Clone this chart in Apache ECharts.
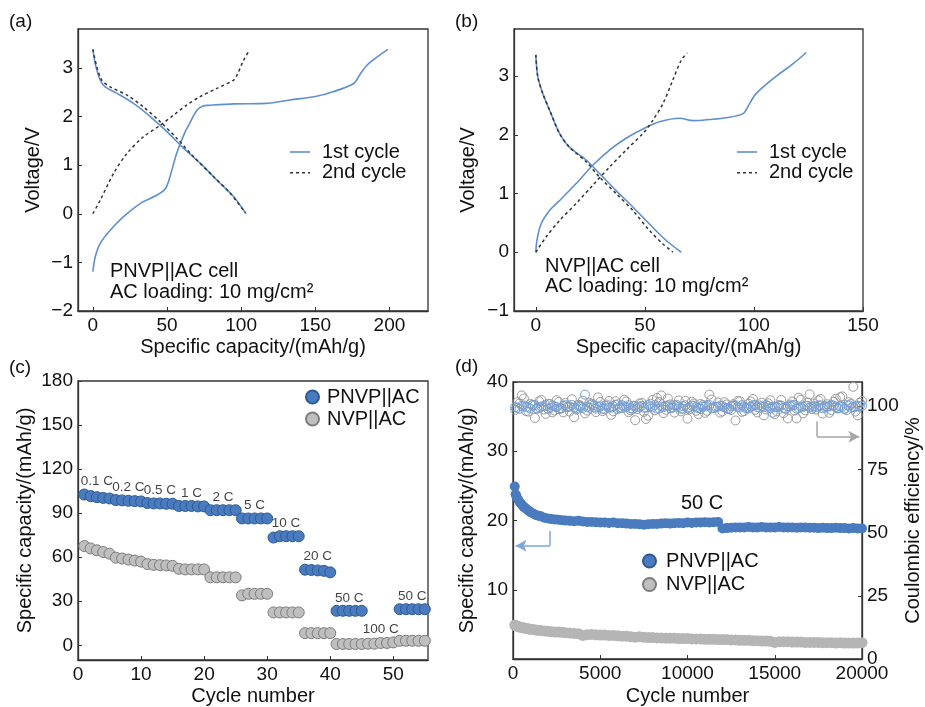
<!DOCTYPE html>
<html><head><meta charset="utf-8">
<script src="https://cdn.jsdelivr.net/npm/echarts@6/dist/echarts.min.js"></script>
<style>html,body{margin:0;padding:0;background:#fff}#c{width:925px;height:707px}</style>
</head><body><div id="c"></div>
<script>
// ---------- Panel (a): PNVP||AC, [capacity mAh/g, voltage V]
const a1Charge = [[0,-1.19],[1.6,-0.89],[5,-0.61],[11.7,-0.34],[20.7,-0.06],[32,0.21],[43,0.38],[49,0.52],[52,0.76],[56.5,1.24],[62.3,1.69],[64.6,1.82],[70.2,2.13],[74.7,2.22],[78,2.23],[95,2.26],[117,2.27],[133,2.34],[150,2.41],[162,2.51],[176,2.68],[180,2.86],[185,3.06],[192,3.23],[199,3.38]];
const a1Discharge = [[0,3.38],[1.5,3.1],[2.7,2.96],[5,2.75],[8.3,2.61],[16,2.48],[27.4,2.27],[38.7,2.0],[50,1.69],[60,1.38],[72.4,1.04],[83.7,0.69],[95,0.35],[103.3,0]];
const a2Charge = [[0,0],[5,0.28],[14,0.83],[23,1.24],[34,1.58],[45.5,1.82],[54.5,2.03],[63.5,2.24],[72.4,2.41],[83.7,2.58],[95,2.75],[97.2,2.85],[101.7,3.16],[105.7,3.37]];
const a2Discharge = [[0,3.38],[2.7,3.02],[6,2.75],[11.7,2.61],[23,2.44],[34,2.2],[45.5,1.89],[56.7,1.55],[68,1.17],[81.5,0.76],[92.7,0.42],[102.8,0.02]];
// ---------- Panel (b): NVP||AC
const b1Charge = [[0,0],[0.5,0.2],[2.4,0.48],[6.3,0.71],[10.9,0.88],[18.5,1.17],[26.1,1.48],[33.8,1.74],[41.4,1.94],[49.8,2.11],[56.7,2.22],[66,2.28],[72,2.24],[79.7,2.26],[87.3,2.29],[95,2.36],[98,2.53],[101,2.7],[110,2.99],[118,3.21],[124,3.4]];
const b1Discharge = [[0,3.36],[0.9,2.99],[3.2,2.7],[6.3,2.42],[10.9,2.02],[15.4,1.79],[23.1,1.57],[29.2,1.34],[36.8,1.05],[44.5,0.77],[52.1,0.48],[59.8,0.2],[66.7,0]];
const b2Charge = [[0,0],[4.7,0.26],[10.9,0.54],[18.5,0.83],[26.1,1.14],[33.8,1.45],[41.4,1.74],[49.8,2.05],[53.7,2.25],[58.3,2.53],[62.8,2.93],[66.7,3.27],[69.4,3.39]];
const b2Discharge = [[0,3.36],[0.9,2.99],[3.2,2.7],[6.3,2.42],[10.9,2.02],[15.4,1.79],[23.1,1.54],[29.2,1.28],[36.8,1.0],[44.5,0.71],[52.1,0.37],[58.3,0.14],[62.9,0]];
// ---------- Panel (c): rate capability
const rateCycles = [1,2,3,4,5,6,7,8,9,10,11,12,13,14,15,16,17,18,19,20,21,22,23,24,25,26,27,28,29,30,31,32,33,34,35,36,37,38,39,40,41,42,43,44,45,46,47,48,49,50,51,52,53,54,55];
const pnvpRate = [102.7,101.6,100.9,100.4,100.0, 98.9,98.7,98.4,98.2,98.0, 96.9,96.6,96.6,96.4,96.4, 94.9,94.9,94.9,94.6,94.6, 92.0,92.0,92.0,92.0,92.0, 86.4,86.4,86.4,86.4,86.4, 73.4,74.3,74.3,74.3,74.3, 51.5,51.3,51.0,50.7,49.7, 23.5,23.5,23.5,23.5,23.5, null,null,null,null,null, 24.6,24.6,24.6,24.6,24.6];
const nvpRate = [67.6,66.0,64.7,63.5,62.4, 59.7,59.1,58.4,57.7,57.0, 55.3,54.8,54.6,54.4,54.1, 52.1,51.7,51.7,51.7,51.7, 46.3,46.3,46.3,46.3,46.3, 34.0,35.1,35.1,35.1,35.1, 22.4,22.4,22.4,22.4,22.4, 8.3,8.3,8.3,8.3,8.3, 0.9,0.9,0.9,0.9,0.9, 1.1,1.1,1.6,1.6,2.0, 3.1,3.1,3.1,3.1,3.1];
const rateNames = ['0.1 C','0.2 C','0.5 C','1 C','2 C','5 C','10 C','20 C','50 C','100 C','50 C'];
// ---------- Panel (d): long cycling at 50 C
const capCycles = [100,150,200,300,400,500,600,700,800,900,1000,1150,1300,1450,1600,1800,2000,2200,2400,2600,2800,3000,3250,3500,3750,4000,4250,4500,4750,5000,5250,5500,5750,6000,6250,6500,6750,7000,7250,7500,7750,8000,8250,8500,8750,9000,9250,9500,9750,10000,10250,10500,10750,11000,11250,11500,11750,12000,12250,12500,12750,13000,13250,13500,13750,14000,14250,14500,14750,15000,15250,15500,15750,16000,16250,16500,16750,17000,17250,17500,17750,18000,18250,18500,18750,19000,19250,19500,19750,20000];
const pnvpCap = [24.9,23.8,23.5,23.0,22.6,22.3,22.0,21.8,21.6,21.4,21.2,21.0,20.8,20.7,20.6,20.4,20.3,20.2,20.15,20.1,20.05,20.0,
19.95,19.9,19.95,19.85,19.8,19.8,19.75,19.7,19.7,19.65,19.7,19.6,19.6,19.55,19.5,19.5,19.45,19.4,19.45,19.5,19.5,19.55,19.6,19.55,19.6,19.65,19.6,19.7,19.65,19.7,19.7,19.75,19.7,19.75,19.8,
18.85,18.9,18.95,19.0,19.0,19.0,19.05,19.0,19.0,19.05,19.0,19.0,19.0,19.05,19.0,19.0,19.0,18.95,19.0,19.0,18.95,18.95,18.9,18.95,18.9,18.9,18.95,18.9,18.9,18.85,18.9,18.85,18.85];
const nvpCap = [4.9,4.8,4.75,4.7,4.6,4.55,4.5,4.45,4.4,4.35,4.3,4.25,4.2,4.15,4.1,4.05,4.0,3.95,3.9,3.9,3.85,3.8,
3.75,3.7,3.65,3.4,3.5,3.55,3.5,3.45,3.45,3.4,3.4,3.35,3.3,3.3,3.2,3.15,3.2,3.15,3.1,3.1,3.05,3.05,3.0,3.0,3.0,2.95,2.95,2.95,2.9,2.9,2.9,2.85,2.85,2.85,2.8,2.8,2.8,2.75,2.75,2.7,2.7,2.7,2.65,2.65,2.6,2.6,2.55,2.4,2.5,2.5,2.5,2.45,2.45,2.45,2.4,2.4,2.4,2.4,2.35,2.35,2.35,2.3,2.35,2.3,2.3,2.3,2.3,2.35];
const ceCyclesA = [125,375,625,875,1125,1375,1625,1875,2125,2375,2625,2875,3125,3375,3625,3875,4125,4375,4625,4875,5125,5375,5625,5875,6125,6375,6625,6875,7125,7375,7625,7875,8125,8375,8625,8875,9125,9375,9625,9875,10125,10375,10625,10875,11125,11375,11625,11875,12125,12375,12625,12875,13125,13375,13625,13875,14125,14375,14625,14875,15125,15375,15625,15875,16125,16375,16625,16875,17125,17375,17625,17875,18125,18375,18625,18875,19125,19375,19625,19875];
const ceCyclesB = [250,500,750,1000,1250,1500,1750,2000,2250,2500,2750,3000,3250,3500,3750,4000,4250,4500,4750,5000,5250,5500,5750,6000,6250,6500,6750,7000,7250,7500,7750,8000,8250,8500,8750,9000,9250,9500,9750,10000,10250,10500,10750,11000,11250,11500,11750,12000,12250,12500,12750,13000,13250,13500,13750,14000,14250,14500,14750,15000,15250,15500,15750,16000,16250,16500,16750,17000,17250,17500,17750,18000,18250,18500,18750,19000,19250,19500,19750,20000];
const pnvpCE_A = [99.6,98.9,100.2,99.4,100.5,99.0,99.8,100.3,99.2,99.9,98.8,100.1,99.5,100.4,99.1,99.7,104.5,99.3,100.2,99.6,98.9,100.0,99.4,100.5,99.2,99.8,100.3,98.8,99.7,100.1,99.4,99.9,100.4,99.0,99.6,100.2,99.3,99.9,98.9,100.3,99.5,100.0,99.2,99.8,100.4,99.1,99.7,100.2,99.4,98.9,100.1,99.6,100.3,99.0,99.8,100.5,99.3,99.7,100.0,97.4,99.5,100.2,98.9,99.9,100.4,99.2,99.7,100.1,98.8,99.6,100.3,99.4,99.9,100.2,99.0,99.7,100.4,99.3,99.8,100.0];
const pnvpCE_B = [99.3,100.1,99.7,99.0,100.4,99.5,99.9,98.9,100.2,99.6,99.1,100.3,99.8,99.4,100.0,99.2,99.7,100.5,99.0,99.8,100.2,99.4,99.9,98.9,100.3,99.6,99.1,100.0,99.7,99.3,100.4,99.5,99.0,99.8,100.1,99.2,100.3,99.6,99.9,99.1,100.2,99.5,98.9,99.8,100.4,99.3,99.7,100.0,99.0,99.9,100.3,99.4,99.8,99.1,100.2,99.6,99.9,100.4,99.2,99.7,100.0,99.3,99.8,100.3,99.0,99.6,100.1,99.4,99.9,100.2,99.1,99.7,100.4,99.5,99.8,99.0,100.3,99.6,99.9,100.1];
const nvpCE_B = [101.5,104.2,98.0,100.8,95.3,101.9,98.6,100.9,97.5,102.3,99.0,101.2,97.8,95.6,100.5,102.1,98.2,100.9,97.6,101.6,98.8,102.0,97.9,100.7,99.2,101.8,98.3,94.4,101.0,97.7,96.2,102.4,103.2,104.2,98.5,100.6,97.4,102.2,98.9,95.0,101.7,98.1,100.8,97.3,104.5,99.2,101.4,97.9,100.6,98.4,94.3,101.9,98.0,100.9,102.8,97.5,101.3,98.6,102.3,96.8,100.4,97.2,95.1,101.8,95.1,102.5,98.3,104.6,101.0,102.2,97.0,100.7,98.4,102.9,103.5,98.8,101.5,107.6,96.3,102.0];
const nvpCE_A = [98.5,101.0,103.0,97.8,100.3,99.0,102.4,96.9,100.8,98.2,101.6,97.5,99.8,102.7,98.6,100.2,97.1,101.3,99.5,103.4,98.0,100.6,96.5,101.9,99.1,102.5,97.6,100.1,98.8,101.2,94.9,100.9,98.3,101.6,97.2,103.0,99.4,100.5,97.9,102.1,98.7,101.0,96.8,100.4,98.1,102.6,99.6,97.4,101.5,98.9,100.7,102.0,97.7,99.3,101.8,98.5,100.2,96.3,101.1,99.8,97.9,102.4,99.0,100.6,98.2,103.3,97.1,101.4,99.7,98.6,102.8,100.0,97.3,101.7,99.2,103.8,98.4,100.9,97.8,101.3];

// ---------- styling
const FONT = '"Liberation Sans", Arial, Helvetica, sans-serif';
const TXT = '#111';
const FS_TICK = 19, FS_TITLE = 20, FS_TEXT = 20;
const BLUE = '#4a7bbf', BLUE_EDGE = '#2c5a94', GRAY = '#bfbfbf', GRAY_EDGE = '#7c7c7c';
const LINE_BLUE = '#5f8fd0', DASH = '#333';
const zip = (xs, ys) => xs.map((x, i) => [x, ys[i]]);
const minus = v => String(v).replace('-', '\u2212');

function axis(kind, idx, min, max, ticks, name, gap, extra) {
  const o = {
    type: 'value', min, max, name, nameLocation: 'middle', nameGap: gap,
    nameTextStyle: { fontSize: FS_TITLE, color: TXT, fontFamily: FONT },
    axisLine: { show: true, onZero: false, lineStyle: { color: '#333', width: 1.3 } },
    axisTick: { show: true, inside: true, length: 4, customValues: ticks, lineStyle: { color: '#333', width: 1 } },
    axisLabel: { customValues: ticks, fontSize: FS_TICK, color: TXT, fontFamily: FONT, margin: 5, formatter: minus },
    splitLine: { show: false }
  };
  o.gridIndex = idx;
  if (kind === 'y') o.nameRotate = 90;
  return Object.assign(o, extra || {});
}
const gridStyle = { show: true, borderColor: '#333', borderWidth: 1.3, containLabel: false };

function lineSeries(name, data, xi, yi, dashed) {
  return {
    type: 'line', name, data, xAxisIndex: xi, yAxisIndex: yi, symbol: 'none', showSymbol: false,
    smooth: 0.3,
    lineStyle: dashed ? { color: DASH, width: 1.5, type: [3, 3] } : { color: LINE_BLUE, width: 1.6 },
    itemStyle: { color: dashed ? DASH : LINE_BLUE }
  };
}

// rate-label anchor points derived from data: centre of each 5-cycle group, top point of group
const rateLabelData = rateNames.map((txt, g) => {
  const sl = pnvpRate.slice(g * 5, g * 5 + 5).filter(v => v != null);
  const top = sl.length ? Math.max(...sl) : Math.max(...nvpRate.slice(g * 5, g * 5 + 5));
  const cyc = rateCycles.slice(g * 5, g * 5 + 5);
  return { value: [(cyc[0] + cyc[4]) / 2, top], label: { formatter: txt } };
});

const legendText = pad => ({ fontSize: FS_TEXT, color: TXT, fontFamily: FONT, padding: [0, 0, 0, pad] });
const txt = (s, fs) => ({ text: s, fontSize: fs || FS_TEXT, fill: TXT, fontFamily: FONT });
function lineLegend(x, y) {
  const t = s => Object.assign(txt(s), { verticalAlign: 'middle' });
  return [
    { type: 'line', shape: { x1: x, y1: y, x2: x + 20, y2: y }, style: { stroke: LINE_BLUE, lineWidth: 1.6 } },
    { type: 'line', shape: { x1: x, y1: y + 20.7, x2: x + 20, y2: y + 20.7 }, style: { stroke: DASH, lineWidth: 1.5, lineDash: [3, 3] } },
    { type: 'text', x: x + 32, y: y, style: t('1st cycle') },
    { type: 'text', x: x + 32, y: y + 20.7, style: t('2nd cycle') }
  ];
}

const option = {
  animation: false,
  backgroundColor: '#fff',
  textStyle: { fontFamily: FONT },
  grid: [
    Object.assign({ left: 78, top: 29, width: 350, height: 282 }, gridStyle),
    Object.assign({ left: 514, top: 29, width: 349, height: 282 }, gridStyle),
    Object.assign({ left: 78, top: 381, width: 350, height: 281 }, gridStyle),
    Object.assign({ left: 513, top: 382, width: 349, height: 279 }, gridStyle)
  ],
  xAxis: [
    axis('x', 0, -10, 226, [0, 50, 100, 150, 200], 'Specific capacity/(mAh/g)', 26),
    axis('x', 1, -10, 150, [0, 50, 100, 150], 'Specific capacity/(mAh/g)', 26),
    axis('x', 2, 0, 55.5, [0, 10, 20, 30, 40, 50], 'Cycle number', 26),
    axis('x', 3, 0, 20000, [0, 5000, 10000, 15000, 20000], 'Cycle number', 27)
  ],
  yAxis: [
    axis('y', 0, -2, 3.8, [-2, -1, 0, 1, 2, 3], 'Voltage/V', 35),
    axis('y', 1, -1, 3.8, [-1, 0, 1, 2, 3], 'Voltage/V', 36),
    axis('y', 2, -10, 180, [0, 30, 60, 90, 120, 150, 180], 'Specific capacity/(mAh/g)', 43),
    axis('y', 3, 0, 40, [10, 20, 30, 40], 'Specific capacity/(mAh/g)', 36),
    axis('y', 3, 0, 109.5, [0, 25, 50, 75, 100], 'Coulombic efficiency/%', 41, { position: 'right' })
  ],
  legend: [
    { data: ['PNVP||AC', 'NVP||AC'], orient: 'vertical', left: 305, top: 387, padding: 0, itemWidth: 13, itemHeight: 13, itemGap: 2, selectedMode: false, textStyle: legendText(3) },
    { data: ['PNVP||AC', 'NVP||AC'], orient: 'vertical', left: 642, top: 551, padding: 0, itemWidth: 13, itemHeight: 13, itemGap: 3.5, selectedMode: false, textStyle: legendText(5) }
  ],
  graphic: [
    { type: 'text', left: 9, top: 12, style: txt('(a)', 19) },
    { type: 'text', left: 455, top: 12, style: txt('(b)', 19) },
    { type: 'text', left: 9, top: 358, style: txt('(c)', 19) },
    { type: 'text', left: 455, top: 357, style: txt('(d)', 19) },
    { type: 'text', left: 110, top: 261, style: txt('PNVP||AC cell') },
    { type: 'text', left: 110, top: 282, style: txt('AC loading: 10 mg/cm\u00B2') },
    { type: 'text', left: 545, top: 256, style: txt('NVP||AC cell') },
    { type: 'text', left: 545, top: 276, style: txt('AC loading: 10 mg/cm\u00B2') },
    { type: 'text', left: 681, top: 493, style: txt('50 C') }
  ].concat(lineLegend(290, 152), lineLegend(737, 152)),
  series: [
    lineSeries('1st cycle', a1Charge, 0, 0, false),
    lineSeries('1st cycle', a1Discharge, 0, 0, false),
    lineSeries('2nd cycle', a2Charge, 0, 0, true),
    lineSeries('2nd cycle', a2Discharge, 0, 0, true),
    lineSeries('1st cycle', b1Charge, 1, 1, false),
    lineSeries('1st cycle', b1Discharge, 1, 1, false),
    lineSeries('2nd cycle', b2Charge, 1, 1, true),
    lineSeries('2nd cycle', b2Discharge, 1, 1, true),
    { type: 'scatter', name: 'PNVP||AC', xAxisIndex: 2, yAxisIndex: 2, symbolSize: 11, data: zip(rateCycles, pnvpRate).filter(p => p[1] != null),
      itemStyle: { color: BLUE, borderColor: BLUE_EDGE, borderWidth: 1, opacity: 1 } },
    { type: 'scatter', name: 'NVP||AC', xAxisIndex: 2, yAxisIndex: 2, symbolSize: 11, data: zip(rateCycles, nvpRate),
      itemStyle: { color: GRAY, borderColor: GRAY_EDGE, borderWidth: 1, opacity: 1 } },
    { type: 'scatter', name: 'rate labels', xAxisIndex: 2, yAxisIndex: 2, symbolSize: 0, silent: true, data: rateLabelData,
      itemStyle: { color: 'rgba(0,0,0,0)' },
      label: { show: true, position: 'top', distance: 6, fontSize: 13.5, color: TXT, fontFamily: FONT } },
    // (d) coulombic efficiency (right axis)
    { type: 'scatter', name: 'NVP CE', xAxisIndex: 3, yAxisIndex: 4, symbolSize: 9, data: zip(ceCyclesB, nvpCE_B).concat(zip(ceCyclesA, nvpCE_A)),
      itemStyle: { color: 'rgba(255,255,255,0)', borderColor: '#9a9a9a', borderWidth: 1, opacity: 1 } },
    { type: 'scatter', name: 'PNVP CE', xAxisIndex: 3, yAxisIndex: 4, symbolSize: 9, data: zip(ceCyclesA, pnvpCE_A).concat(zip(ceCyclesB, pnvpCE_B)),
      itemStyle: { color: 'rgba(255,255,255,0)', borderColor: '#739fd8', borderWidth: 1, opacity: 1 } },
    // (d) capacity (left axis)
    { type: 'scatter', name: 'NVP||AC', xAxisIndex: 3, yAxisIndex: 3, symbolSize: 11, data: zip(capCycles, nvpCap),
      itemStyle: { color: '#b5b5b5', opacity: 1 },
      markLine: { silent: true, animation: false, label: { show: false }, lineStyle: { color: '#a6a6a6', width: 1.5, type: 'solid' },
        data: [
          [{ coord: [17420, 34.3], symbol: 'none' }, { coord: [17420, 32.1], symbol: 'none' }],
          [{ coord: [17420, 32.1], symbol: 'none' }, { coord: [19850, 32.1], symbol: 'arrow', symbolSize: [9, 11] }]
        ] } },
    { type: 'scatter', name: 'PNVP||AC', xAxisIndex: 3, yAxisIndex: 3, symbolSize: 10, data: zip(capCycles, pnvpCap),
      itemStyle: { color: BLUE, opacity: 1 },
      markLine: { silent: true, animation: false, label: { show: false }, lineStyle: { color: '#7ea6d8', width: 1.5, type: 'solid' },
        data: [
          [{ coord: [2120, 18.5], symbol: 'none' }, { coord: [2120, 16.35], symbol: 'none' }],
          [{ coord: [2120, 16.35], symbol: 'none' }, { coord: [150, 16.35], symbol: 'arrow', symbolSize: [9, 11] }]
        ] } }
  ]
};
const chart = echarts.init(document.getElementById('c'), null, { renderer: 'canvas' });
chart.setOption(option);
</script></body></html>
